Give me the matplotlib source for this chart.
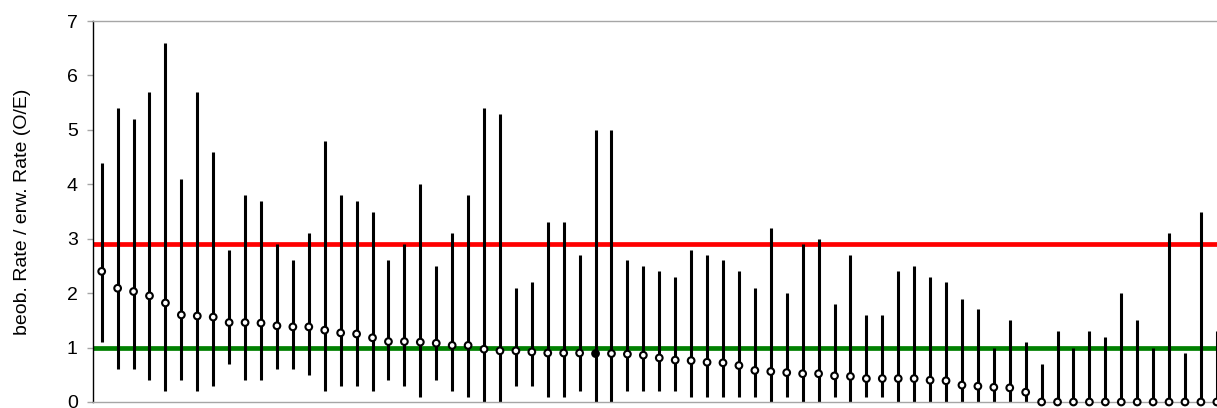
import numpy as np
import matplotlib
matplotlib.use("Agg")
import matplotlib.pyplot as plt

plt.rcParams['font.family'] = ['Liberation Sans', 'DejaVu Sans']

# observed / expected rate per unit, sorted descending, with confidence limits
oe = [2.40, 2.09, 2.03, 1.95, 1.82, 1.60, 1.58, 1.56, 1.46, 1.46,
      1.45, 1.40, 1.38, 1.38, 1.32, 1.27, 1.25, 1.18, 1.11, 1.11,
      1.10, 1.08, 1.04, 1.04, 0.97, 0.94, 0.94, 0.92, 0.90, 0.90,
      0.90, 0.89, 0.89, 0.88, 0.86, 0.81, 0.77, 0.76, 0.73, 0.72,
      0.67, 0.58, 0.56, 0.54, 0.52, 0.52, 0.48, 0.47, 0.43, 0.43,
      0.43, 0.43, 0.40, 0.39, 0.31, 0.29, 0.27, 0.26, 0.18, 0.0,
      0.0, 0.0, 0.0, 0.0, 0.0, 0.0, 0.0, 0.0, 0.0, 0.0,
      0.0]
ci_low = [1.1, 0.6, 0.6, 0.4, 0.2, 0.4, 0.2, 0.3, 0.7, 0.4,
          0.4, 0.6, 0.6, 0.5, 0.2, 0.3, 0.3, 0.2, 0.4, 0.3,
          0.1, 0.4, 0.2, 0.1, 0.0, 0.0, 0.3, 0.3, 0.1, 0.1,
          0.2, 0.0, 0.0, 0.2, 0.2, 0.2, 0.2, 0.1, 0.1, 0.1,
          0.1, 0.1, 0.0, 0.1, 0.0, 0.0, 0.1, 0.0, 0.1, 0.1,
          0.0, 0.0, 0.0, 0.0, 0.0, 0.0, 0.0, 0.0, 0.0, 0.0,
          0.0, 0.0, 0.0, 0.0, 0.0, 0.0, 0.0, 0.0, 0.0, 0.0,
          0.0]
ci_high = [4.4, 5.4, 5.2, 5.7, 6.6, 4.1, 5.7, 4.6, 2.8, 3.8,
           3.7, 2.9, 2.6, 3.1, 4.8, 3.8, 3.7, 3.5, 2.6, 2.9,
           4.0, 2.5, 3.1, 3.8, 5.4, 5.3, 2.1, 2.2, 3.3, 3.3,
           2.7, 5.0, 5.0, 2.6, 2.5, 2.4, 2.3, 2.8, 2.7, 2.6,
           2.4, 2.1, 3.2, 2.0, 2.9, 3.0, 1.8, 2.7, 1.6, 1.6,
           2.4, 2.5, 2.3, 2.2, 1.9, 1.7, 1.0, 1.5, 1.1, 0.7,
           1.3, 1.0, 1.3, 1.2, 2.0, 1.5, 1.0, 3.1, 0.9, 3.5,
           1.3]
highlight = 31          # own unit, drawn filled
upper_limit = 2.9
reference = 1.0

x = np.arange(len(oe))
oe = np.array(oe)
lo = np.array(ci_low)
hi = np.array(ci_high)

fig = plt.figure(figsize=(12.17, 4.08), dpi=100)
ax = fig.add_axes([93 / 1217, 6 / 408, 1 - 93 / 1217, 381 / 408])

ax.axhline(upper_limit, color='#ff0000', lw=3.4, zorder=1)
ax.axhline(reference, color='#008000', lw=3.4, zorder=1)

ax.vlines(x, lo, hi, color='black', lw=2.2, zorder=2)

face = ['black' if i == highlight else 'white' for i in x]
ax.scatter(x, oe, s=4.8 ** 2, facecolors=face, edgecolors='black',
           linewidths=1.5, zorder=3, clip_on=False)

ax.set_ylim(0, 7)
ax.set_xlim(-0.546, 70.01)
ax.set_yticks(range(0, 8))
ax.set_xticks([])

for side in ['top', 'bottom']:
    ax.spines[side].set_color('#a6a6a6')
    ax.spines[side].set_linewidth(1.0)
ax.spines['right'].set_visible(False)
ax.spines['left'].set_color('black')
ax.spines['left'].set_linewidth(1.0)

ax.tick_params(axis='y', direction='out', length=4, width=1.0,
               color='#a6a6a6', pad=7, labelsize=14)
ax.set_ylabel('beob. Rate / erw. Rate (O/E)', fontsize=14)
ax.yaxis.set_label_coords(-0.055, 0.5)

plt.savefig('out.png', dpi=100)
plt.close()
